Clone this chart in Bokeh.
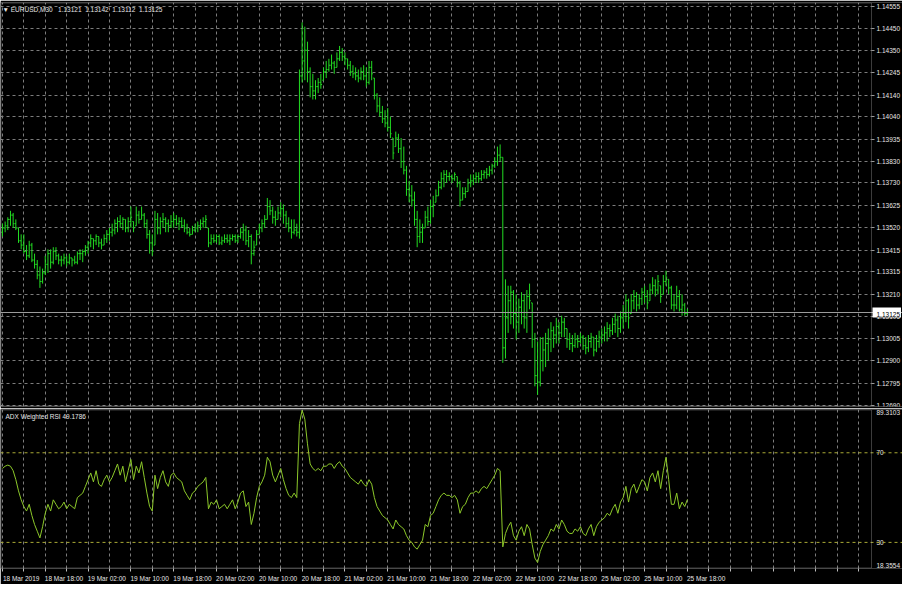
from bokeh.plotting import figure
from bokeh.models import (Range1d, FixedTicker, PrintfTickFormatter, Span, Label,
                          ColumnDataSource, BoxAnnotation)
from bokeh.layouts import column
from bokeh.embed import file_html
from bokeh.resources import INLINE

# ---------------- data ----------------
NB = "\u00a0"
symbol_title = "\u25bc" + NB + "EURUSD,M30" + NB * 3 + "1.13121" + NB * 2 + "1.13142" + NB * 2 + "1.13112" + NB * 2 + "1.13125"
indicator_title = "ADX Weighted RSI 49.1786"
last_price = 1.13125
first_open = 1.1350

price_ticks = [1.14555, 1.14450, 1.14350, 1.14245, 1.14140, 1.14040, 1.13935, 1.13830,
               1.13730, 1.13625, 1.13520, 1.13415, 1.13315, 1.13210, 1.13105, 1.13005,
               1.12900, 1.12795, 1.12690]

time_label_bars = [0, 16, 32, 48, 64, 80, 96, 112, 128, 144, 160, 176, 192, 208, 224, 240, 256]
time_labels = ["18 Mar 2019", "18 Mar 18:00", "19 Mar 02:00", "19 Mar 10:00", "19 Mar 18:00",
               "20 Mar 02:00", "20 Mar 10:00", "20 Mar 18:00", "21 Mar 02:00", "21 Mar 10:00",
               "21 Mar 18:00", "22 Mar 02:00", "22 Mar 10:00", "22 Mar 18:00", "25 Mar 02:00",
               "25 Mar 10:00", "25 Mar 18:00"]

rsi_levels = [70, 30]
rsi_min, rsi_max = 18.3554, 89.3103

highs = [
    1.1354, 1.1355, 1.1357, 1.1360, 1.1359, 1.1356, 1.1352, 1.1349, 1.1349, 1.1344,
    1.1346, 1.1345, 1.1340, 1.1337, 1.1334, 1.1333, 1.1339, 1.1342, 1.1342, 1.1343,
    1.1343, 1.1340, 1.1339, 1.1340, 1.1339, 1.1340, 1.1338, 1.1339, 1.1341, 1.1342,
    1.1342, 1.1344, 1.1346, 1.1349, 1.1347, 1.1349, 1.1348, 1.1347, 1.1349, 1.1351,
    1.1352, 1.1354, 1.1356, 1.1357, 1.1358, 1.1357, 1.1356, 1.1357, 1.1362, 1.1355,
    1.1362, 1.1360, 1.1362, 1.1359, 1.1356, 1.1351, 1.1349, 1.1360, 1.1359, 1.1357,
    1.1359, 1.1357, 1.1356, 1.1358, 1.1359, 1.1358, 1.1357, 1.1357, 1.1356, 1.1354,
    1.1352, 1.1353, 1.1354, 1.1355, 1.1356, 1.1357, 1.1358, 1.1352, 1.1349, 1.1349,
    1.1349, 1.1349, 1.1348, 1.1349, 1.1349, 1.1349, 1.1349, 1.1349, 1.1349, 1.1352,
    1.1354, 1.1353, 1.1351, 1.1349, 1.1346, 1.1351, 1.1354, 1.1356, 1.1358, 1.1366,
    1.1365, 1.1362, 1.1360, 1.1362, 1.1364, 1.1363, 1.1360, 1.1357, 1.1356, 1.1356,
    1.1354, 1.1426, 1.1448, 1.1446, 1.1439, 1.1427, 1.1424, 1.1421, 1.1422, 1.1424,
    1.1427, 1.1430, 1.1431, 1.1433, 1.1430, 1.1434, 1.1437, 1.1436, 1.1434, 1.1431,
    1.1430, 1.1428, 1.1427, 1.1426, 1.1427, 1.1428, 1.1427, 1.1430, 1.1430, 1.1422,
    1.1415, 1.1413, 1.1409, 1.1407, 1.1408, 1.1404, 1.1394, 1.1397, 1.1396, 1.1394,
    1.1390, 1.1381, 1.1374, 1.1372, 1.1369, 1.1360, 1.1356, 1.1354, 1.1360, 1.1362,
    1.1365, 1.1367, 1.1370, 1.1374, 1.1378, 1.1379, 1.1379, 1.1378, 1.1377, 1.1378,
    1.1376, 1.1374, 1.1371, 1.1371, 1.1375, 1.1377, 1.1377, 1.1378, 1.1378, 1.1379,
    1.1379, 1.1380, 1.1381, 1.1382, 1.1385, 1.1390, 1.1391, 1.1385, 1.1328, 1.1325,
    1.1325, 1.1323, 1.1321, 1.1319, 1.1322, 1.1321, 1.1323, 1.1326, 1.1317, 1.1303,
    1.1299, 1.1301, 1.1301, 1.1303, 1.1305, 1.1308, 1.1306, 1.1310, 1.1308, 1.1311,
    1.1310, 1.1305, 1.1303, 1.1302, 1.1303, 1.1302, 1.1303, 1.1302, 1.1301, 1.1302,
    1.1303, 1.1301, 1.1302, 1.1304, 1.1305, 1.1306, 1.1308, 1.1307, 1.1310, 1.1312,
    1.1311, 1.1313, 1.1316, 1.1321, 1.1319, 1.1321, 1.1323, 1.1322, 1.1321, 1.1324,
    1.1325, 1.1323, 1.1326, 1.1329, 1.1328, 1.1330, 1.1325, 1.1330, 1.1332, 1.1328,
    1.1325, 1.1321, 1.1325, 1.1323, 1.1321, 1.1317, 1.13142,
]

lows = [
    1.1348, 1.1350, 1.1351, 1.1353, 1.1352, 1.1351, 1.1345, 1.1342, 1.1340, 1.1337,
    1.1338, 1.1336, 1.1333, 1.1328, 1.1324, 1.1326, 1.1330, 1.1331, 1.1333, 1.1335,
    1.1337, 1.1335, 1.1334, 1.1335, 1.1334, 1.1335, 1.1334, 1.1335, 1.1335, 1.1337,
    1.1336, 1.1339, 1.1340, 1.1343, 1.1342, 1.1344, 1.1343, 1.1342, 1.1344, 1.1345,
    1.1346, 1.1348, 1.1349, 1.1350, 1.1352, 1.1351, 1.1350, 1.1350, 1.1352, 1.1350,
    1.1353, 1.1354, 1.1356, 1.1352, 1.1347, 1.1340, 1.1339, 1.1344, 1.1349, 1.1349,
    1.1352, 1.1350, 1.1350, 1.1352, 1.1352, 1.1353, 1.1351, 1.1352, 1.1350, 1.1349,
    1.1348, 1.1349, 1.1350, 1.1350, 1.1351, 1.1352, 1.1352, 1.1343, 1.1344, 1.1345,
    1.1345, 1.1344, 1.1344, 1.1345, 1.1345, 1.1344, 1.1346, 1.1345, 1.1345, 1.1347,
    1.1346, 1.1344, 1.1343, 1.1335, 1.1339, 1.1344, 1.1349, 1.1350, 1.1352, 1.1356,
    1.1358, 1.1354, 1.1353, 1.1356, 1.1357, 1.1354, 1.1352, 1.1350, 1.1347, 1.1349,
    1.1348, 1.1347, 1.1420, 1.1421, 1.1420, 1.1413, 1.1412, 1.1412, 1.1415, 1.1417,
    1.1421, 1.1422, 1.1425, 1.1426, 1.1424, 1.1427, 1.1430, 1.1430, 1.1428, 1.1426,
    1.1423, 1.1422, 1.1421, 1.1420, 1.1421, 1.1421, 1.1418, 1.1419, 1.1421, 1.1412,
    1.1406, 1.1404, 1.1401, 1.1399, 1.1397, 1.1394, 1.1384, 1.1390, 1.1387, 1.1380,
    1.1377, 1.1367, 1.1364, 1.1362, 1.1353, 1.1343, 1.1345, 1.1345, 1.1352, 1.1353,
    1.1354, 1.1357, 1.1364, 1.1367, 1.1370, 1.1371, 1.1373, 1.1374, 1.1373, 1.1374,
    1.1371, 1.1362, 1.1365, 1.1366, 1.1369, 1.1371, 1.1372, 1.1373, 1.1373, 1.1374,
    1.1375, 1.1375, 1.1376, 1.1377, 1.1380, 1.1381, 1.1383, 1.1289, 1.1291, 1.1303,
    1.1307, 1.1305, 1.1300, 1.1303, 1.1307, 1.1305, 1.1303, 1.1314, 1.1296, 1.1278,
    1.1274, 1.1278, 1.1285, 1.1287, 1.1290, 1.1294, 1.1296, 1.1298, 1.1298, 1.1301,
    1.1301, 1.1296, 1.1295, 1.1294, 1.1296, 1.1296, 1.1298, 1.1295, 1.1293, 1.1294,
    1.1296, 1.1292, 1.1294, 1.1296, 1.1298, 1.1299, 1.1299, 1.1301, 1.1302, 1.1303,
    1.1301, 1.1303, 1.1305, 1.1308, 1.1305, 1.1312, 1.1314, 1.1313, 1.1314, 1.1316,
    1.1317, 1.1314, 1.1318, 1.1321, 1.1320, 1.1321, 1.1317, 1.1321, 1.1325, 1.1321,
    1.1314, 1.1313, 1.1314, 1.1313, 1.1311, 1.1311, 1.13112,
]

closes = [
    1.1352, 1.1353, 1.1356, 1.1358, 1.1354, 1.1352, 1.1346, 1.1344, 1.1341, 1.1339,
    1.1344, 1.1337, 1.1335, 1.1330, 1.1327, 1.1331, 1.1335, 1.1340, 1.1336, 1.1341,
    1.1339, 1.1337, 1.1337, 1.1338, 1.1336, 1.1338, 1.1337, 1.1336, 1.1340, 1.1340,
    1.1341, 1.1343, 1.1345, 1.1347, 1.1346, 1.1348, 1.1345, 1.1344, 1.1347, 1.1349,
    1.1350, 1.1351, 1.1354, 1.1355, 1.1354, 1.1356, 1.1352, 1.1355, 1.1357, 1.1352,
    1.1358, 1.1356, 1.1358, 1.1354, 1.1349, 1.1345, 1.1341, 1.1356, 1.1352, 1.1355,
    1.1356, 1.1354, 1.1353, 1.1355, 1.1356, 1.1354, 1.1355, 1.1353, 1.1352, 1.1350,
    1.1349, 1.1351, 1.1352, 1.1353, 1.1354, 1.1355, 1.1356, 1.1345, 1.1347, 1.1346,
    1.1348, 1.1345, 1.1346, 1.1347, 1.1346, 1.1347, 1.1348, 1.1346, 1.1348, 1.1350,
    1.1351, 1.1346, 1.1348, 1.1340, 1.1343, 1.1349, 1.1352, 1.1354, 1.1356, 1.1362,
    1.1360, 1.1357, 1.1356, 1.1359, 1.1361, 1.1358, 1.1354, 1.1352, 1.1350, 1.1351,
    1.1350, 1.1423, 1.1430, 1.1435, 1.1425, 1.1418, 1.1416, 1.1418, 1.1420, 1.1419,
    1.1425, 1.1426, 1.1428, 1.1429, 1.1427, 1.1431, 1.1434, 1.1432, 1.1431, 1.1428,
    1.1425, 1.1424, 1.1423, 1.1422, 1.1425, 1.1423, 1.1420, 1.1427, 1.1424, 1.1414,
    1.1409, 1.1406, 1.1403, 1.1401, 1.1399, 1.1396, 1.1387, 1.1394, 1.1389, 1.1383,
    1.1379, 1.1370, 1.1367, 1.1365, 1.1356, 1.1348, 1.1350, 1.1352, 1.1357, 1.1355,
    1.1362, 1.1363, 1.1367, 1.1371, 1.1375, 1.1377, 1.1376, 1.1376, 1.1375, 1.1377,
    1.1373, 1.1365, 1.1368, 1.1369, 1.1373, 1.1374, 1.1375, 1.1376, 1.1375, 1.1377,
    1.1378, 1.1377, 1.1379, 1.1381, 1.1383, 1.1386, 1.1385, 1.1296, 1.1310, 1.1318,
    1.1322, 1.1312, 1.1308, 1.1315, 1.1318, 1.1310, 1.1320, 1.1318, 1.1300, 1.1283,
    1.1280, 1.1290, 1.1295, 1.1298, 1.1300, 1.1304, 1.1302, 1.1306, 1.1303, 1.1308,
    1.1305, 1.1300, 1.1298, 1.1297, 1.1300, 1.1299, 1.1301, 1.1297, 1.1296, 1.1299,
    1.1301, 1.1295, 1.1299, 1.1301, 1.1302, 1.1303, 1.1305, 1.1304, 1.1307, 1.1309,
    1.1305, 1.1310, 1.1312, 1.1318, 1.1310, 1.1318, 1.1320, 1.1316, 1.1319, 1.1322,
    1.1320, 1.1317, 1.1323, 1.1325, 1.1323, 1.1327, 1.1320, 1.1327, 1.1329, 1.1324,
    1.1316, 1.1316, 1.1320, 1.1314, 1.1316, 1.13121, 1.13125,
]

rsi = [
    63, 64, 64.5, 64, 62, 58, 53, 49, 46, 44,
    47, 42, 38, 35, 32, 37, 43, 47, 44, 49,
    47, 45, 46, 48, 45, 47, 46, 45, 50, 51,
    52, 55, 58, 61, 57, 62, 56, 55, 58, 60,
    57, 59, 62, 65, 60, 64, 57, 62, 67, 58,
    64, 61, 66, 59, 52, 46, 44, 60, 54, 59,
    62, 57, 55, 60, 61, 59, 58, 57, 53, 51,
    49, 52, 53, 55, 56, 57, 59, 45, 48, 47,
    49, 45, 46, 47, 45, 47, 49, 45, 48, 52,
    53, 46, 48, 38, 43, 50, 55, 57, 60, 68,
    66, 60, 57, 60, 63, 58, 54, 51, 50, 52,
    50, 83, 89, 85, 74, 65, 63, 62, 63, 62,
    64, 64, 65, 65, 63, 65, 66, 64, 63, 61,
    59, 58, 57, 56, 58, 56, 55, 58, 56, 50,
    46, 44, 42, 41, 40, 38, 36, 40, 38, 37,
    36, 33, 31, 30, 28, 27, 29, 31, 38, 37,
    42, 43, 46, 49, 51, 52, 51, 51, 50, 51,
    49, 43, 46, 47, 50, 52, 52, 53, 52, 54,
    55, 54, 56, 58, 60, 63, 62, 28, 34, 37,
    39, 33, 31, 35, 37, 33, 38, 36, 29, 23,
    21, 26, 29, 31, 33, 36, 35, 38, 36, 40,
    38, 35, 34, 34, 36, 35, 37, 34, 33, 36,
    38, 33, 37, 39, 40, 41, 43, 42, 45, 47,
    43, 48, 50, 55, 48, 54, 56, 52, 55, 58,
    57, 53, 59, 61, 57, 62, 54, 62, 68, 58,
    47, 47, 52, 45, 48, 46, 49.1786,
]

# ---------------- derived ----------------
n = len(closes)
idx = list(range(n))
opens = [first_open] + closes[:-1]
opens = [min(max(o, l), h) for o, l, h in zip(opens, lows, highs)]

src = ColumnDataSource(dict(
    x=idx,
    xl=[i - 0.45 for i in idx],
    xr=[i + 0.45 for i in idx],
    high=highs, low=lows, open=opens, close=closes,
))
rsrc = ColumnDataSource(dict(x=list(range(len(rsi))), rsi=rsi))

FONT = "Liberation Sans"
FS = "6.5px"
TXT = "#e6e6e6"
GRID = "#7c7c7c"
FRAME = "#c8c8c8"
BAR = "#22dc22"

W = 902
X0 = -0.73          # left edge of the chart area (bar units)
XB = 324.8          # right border of the chart area (bar units), price scale starts here
PXB = 871 / (XB - X0)   # pixels per bar
X1 = X0 + W / PXB   # full frame extent incl. price-scale strip

grid_bars = [b for b in range(0, 330, 8) if b <= XB]

xr = Range1d(X0, X1)

Y0, Y1 = 1.12686, 1.14573
H1 = 408


def style_axis_labels(a):
    a.major_label_text_color = TXT
    a.major_label_text_font = FONT
    a.major_label_text_font_size = FS


# ---------------- main price panel ----------------
p1 = figure(width=W, height=H1, x_range=xr, y_range=Range1d(Y0, Y1),
            output_backend="svg", toolbar_location=None,
            x_axis_location=None, y_axis_location="right",
            min_border_left=0, min_border_right=0, min_border_top=2, min_border_bottom=2,
            background_fill_color="black", border_fill_color="black",
            outline_line_color=None)

ax = p1.yaxis[0]
ax.fixed_location = XB
ax.ticker = FixedTicker(ticks=price_ticks)
ax.formatter = PrintfTickFormatter(format="%.5f")
ax.axis_line_color = None
ax.major_tick_out = 3
ax.major_tick_in = 0
ax.major_tick_line_color = "#9a9a9a"
ax.minor_tick_line_color = None
ax.major_label_standoff = 2
style_axis_labels(ax)

p1.xgrid.ticker = FixedTicker(ticks=grid_bars)
p1.ygrid.ticker = FixedTicker(ticks=price_ticks)
for g in (p1.xgrid[0], p1.ygrid[0]):
    g.grid_line_color = GRID
    g.grid_line_dash = "3 3"
    g.grid_line_width = 1
try:
    p1.ygrid[0].cross_bounds = (X0, XB)
except Exception:
    pass

p1.add_layout(Span(location=last_price, dimension="width", line_color="#9c9c9c", line_width=1))

p1.segment(x0="x", y0="low", x1="x", y1="high", source=src, line_color=BAR, line_width=1)
p1.segment(x0="xl", y0="open", x1="x", y1="open", source=src, line_color=BAR, line_width=1)
p1.segment(x0="x", y0="close", x1="xr", y1="close", source=src, line_color=BAR, line_width=1)

dy1 = (Y1 - Y0) / (H1 - 4)
p1.add_layout(BoxAnnotation(left=X0 + 0.5 / PXB, right=XB, bottom=Y0 + 0.5 * dy1, top=Y1 - 0.5 * dy1,
                            fill_alpha=0, line_color=FRAME, line_width=1))

p1.add_layout(Label(x=X0, y=Y1, x_offset=2, y_offset=-3, text=symbol_title,
                    text_baseline="top", text_align="left", text_color=TXT,
                    text_font=FONT, text_font_size=FS))
price_box = Label(x=XB, y=last_price, x_offset=1, text="1.13125", level="overlay",
                  text_baseline="middle", text_align="left", text_color="black",
                  background_fill_color="white", background_fill_alpha=1.0,
                  text_font=FONT, text_font_size=FS)
try:
    price_box.padding = (4, 1, 4, 1)
except Exception:
    pass
p1.add_layout(price_box)

# ---------------- indicator panel ----------------
H2 = 176
p2 = figure(width=W, height=H2, x_range=xr, y_range=Range1d(rsi_min, rsi_max),
            output_backend="svg", toolbar_location=None,
            x_axis_location="below", y_axis_location="right",
            min_border_left=0, min_border_right=0, min_border_top=1, min_border_bottom=13,
            background_fill_color="black", border_fill_color="black",
            outline_line_color=None)

ay = p2.yaxis[0]
ay.fixed_location = XB
rsi_tick_pos = [19.8, 30, 70, 87.9]
ay.ticker = FixedTicker(ticks=rsi_tick_pos)
ay.major_label_overrides = {19.8: "18.3554", 30: "30", 70: "70", 87.9: "89.3103"}
ay.axis_line_color = None
ay.major_tick_out = 0
ay.major_tick_in = 0
ay.minor_tick_line_color = None
ay.major_label_standoff = 5
style_axis_labels(ay)

axx = p2.xaxis[0]
shifted = [b + 7 for b in time_label_bars]
axx.ticker = FixedTicker(ticks=shifted, minor_ticks=grid_bars)
axx.major_label_overrides = {s: t for s, t in zip(shifted, time_labels)}
axx.axis_line_color = None
axx.major_tick_out = 0
axx.major_tick_in = 0
axx.minor_tick_out = 3
axx.minor_tick_in = 0
axx.minor_tick_line_color = "#bdbdbd"
axx.major_label_standoff = 3
style_axis_labels(axx)

p2.xgrid.ticker = FixedTicker(ticks=grid_bars)
p2.xgrid[0].grid_line_color = GRID
p2.xgrid[0].grid_line_dash = "3 3"
p2.ygrid.visible = False

for lv in rsi_levels:
    p2.add_layout(Span(location=lv, dimension="width", line_color="#a9a935",
                       line_dash="3 3", line_width=1))

p2.line(x="x", y="rsi", source=rsrc, line_color="#8cc82a", line_width=1)

dy2 = (rsi_max - rsi_min) / (H2 - 15)
p2.add_layout(BoxAnnotation(left=X0 + 0.5 / PXB, right=XB, bottom=rsi_min + 0.5 * dy2,
                            top=rsi_max - 0.5 * dy2,
                            fill_alpha=0, line_color=FRAME, line_width=1))

p2.add_layout(Label(x=X0, y=rsi_max, x_offset=5, y_offset=-3, text=indicator_title,
                    text_baseline="top", text_align="left", text_color=TXT,
                    text_font=FONT, text_font_size=FS))

layout = column(p1, p2, spacing=0)

open("out.html", "w").write(file_html(layout, INLINE))
